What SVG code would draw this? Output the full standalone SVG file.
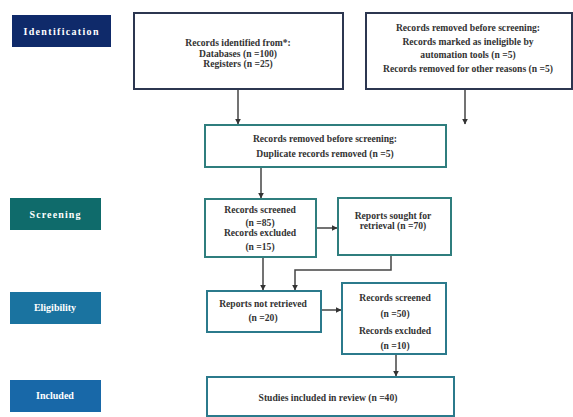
<svg xmlns="http://www.w3.org/2000/svg" width="573" height="417" viewBox="0 0 573 417">
<defs>
<marker id="ah" viewBox="0 0 10 10" refX="9" refY="5" markerWidth="6" markerHeight="6" orient="auto" markerUnits="userSpaceOnUse">
<path d="M0,0 L10,5 L0,10 z" fill="#333"/>
</marker>
</defs>
<style>
.lab{font-family:"Liberation Serif",serif;font-weight:bold;font-size:10px;fill:#fff;text-anchor:middle}
.t{font-family:"Liberation Serif",serif;font-weight:bold;font-size:9.6px;fill:#333;text-anchor:middle}
.bn{fill:#fff;stroke:#2c3650;stroke-width:2}
.bt{fill:#fff;stroke:#2f7e7e;stroke-width:2}
.bb{fill:#fff;stroke:#2b7a8c;stroke-width:2}
.c{fill:none;stroke:#444;stroke-width:1.5}
</style>
<rect width="573" height="417" fill="#fff"/>
<g id="lab-identification"><rect x="12" y="15" width="99" height="32" fill="#0f2a6a"/><text class="lab" x="61" y="35" font-size="11.5" textLength="75" lengthAdjust="spacing">Identification</text></g>
<g id="lab-screening"><rect x="10" y="198" width="91" height="32" fill="#0f6b6b"/><text class="lab" x="55" y="217.5" font-size="11" textLength="51" lengthAdjust="spacing">Screening</text></g>
<g id="lab-eligibility"><rect x="10" y="292" width="91" height="32" fill="#1a73a0"/><text class="lab" x="55" y="311">Eligibility</text></g>
<g id="lab-included"><rect x="10" y="380" width="91" height="32" fill="#1868a8"/><text class="lab" x="55" y="399">Included</text></g>
<g id="connectors">
<line class="c" x1="238" y1="89" x2="238" y2="124" marker-end="url(#ah)"/>
<line class="c" x1="465" y1="89" x2="465" y2="124" marker-end="url(#ah)"/>
<line class="c" x1="261" y1="167" x2="261" y2="198" marker-end="url(#ah)"/>
<line class="c" x1="316" y1="228" x2="337" y2="228" marker-end="url(#ah)"/>
<line class="c" x1="263" y1="257" x2="263" y2="290" marker-end="url(#ah)"/>
<polyline class="c" points="391,255 391,270 295,270 295,290" marker-end="url(#ah)"/>
<line class="c" x1="321" y1="310" x2="341" y2="310" marker-end="url(#ah)"/>
<line class="c" x1="396" y1="354" x2="396" y2="376" marker-end="url(#ah)"/>
</g>
<g id="box-identified"><rect class="bn" x="134" y="13" width="209" height="76"/>
<text class="t" x="238" y="46">Records identified from*:</text>
<text class="t" x="238" y="56.5">Databases (n =100)</text>
<text class="t" x="238" y="67">Registers (n =25)</text></g>
<g id="box-removed"><rect class="bn" x="366" y="13" width="206" height="76"/>
<text class="t" x="468" y="30.5">Records removed before screening:</text>
<text class="t" x="468" y="44.5">Records marked as ineligible by</text>
<text class="t" x="468" y="58">automation tools (n =5)</text>
<text class="t" x="468" y="71.5">Records removed for other reasons (n =5)</text></g>
<g id="box-duplicates"><rect class="bt" x="205" y="125" width="241" height="42"/>
<text class="t" x="325" y="141.5">Records removed before screening:</text>
<text class="t" x="325" y="156.5">Duplicate records removed (n =5)</text></g>
<g id="box-screened"><rect class="bt" x="205" y="199" width="111" height="58"/>
<text class="t" x="260" y="213">Records screened</text>
<text class="t" x="260" y="226">(n =85)</text>
<text class="t" x="260" y="235.5">Records excluded</text>
<text class="t" x="260" y="250">(n =15)</text></g>
<g id="box-sought"><rect class="bt" x="338" y="198" width="113" height="57"/>
<text class="t" x="393" y="218.5">Reports sought for</text>
<text class="t" x="393" y="229">retrieval (n =70)</text></g>
<g id="box-notretrieved"><rect class="bb" x="207" y="291" width="114" height="41"/>
<text class="t" x="263" y="306.5">Reports not retrieved</text>
<text class="t" x="263" y="320.5">(n =20)</text></g>
<g id="box-eligible"><rect class="bb" x="342" y="283" width="104" height="71"/>
<text class="t" x="395" y="300.5">Records screened</text>
<text class="t" x="395" y="316.5">(n =50)</text>
<text class="t" x="395" y="333.5">Records excluded</text>
<text class="t" x="395" y="348.5">(n =10)</text></g>
<g id="box-included"><rect class="bb" x="207" y="377" width="247" height="39"/>
<text class="t" x="328" y="400.5">Studies included in review (n =40)</text></g>
</svg>
